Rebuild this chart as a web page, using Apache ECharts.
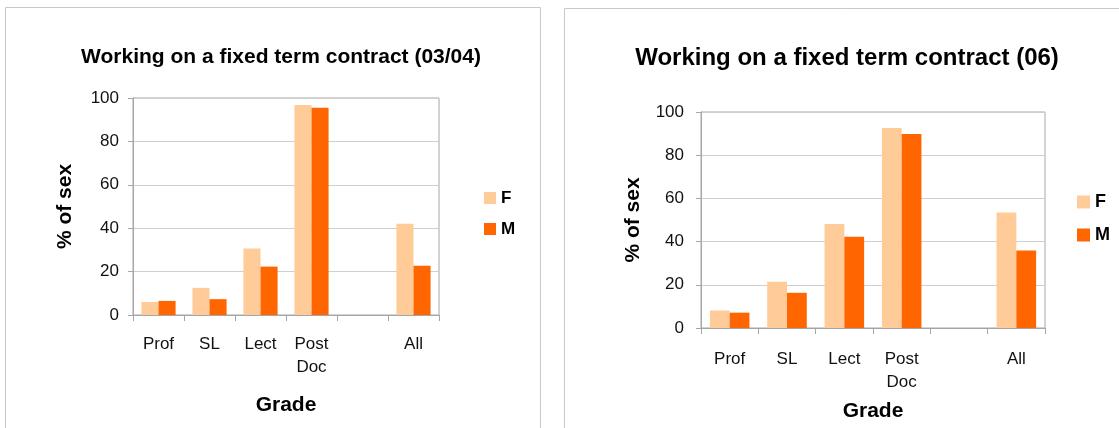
<!DOCTYPE html>
<html>
<head>
<meta charset="utf-8">
<script src="https://cdn.jsdelivr.net/npm/echarts@6/dist/echarts.min.js"></script>
<style>
  html, body { margin: 0; padding: 0; background: #ffffff; }
  #chart { width: 1119px; height: 428px; }
</style>
</head>
<body>
<div id="chart"></div>
<script>
// Grades on the x axis (blank slot separates "All" from the individual grades)
var grades = ['Prof', 'SL', 'Lect', 'Post\nDoc', '', 'All'];

// Percentage of each sex on a fixed term contract, 2003/04
var female0304 = [6.0, 12.5, 30.6, 96.8, null, 42.1];
var male0304 = [6.5, 7.3, 22.3, 95.5, null, 22.7];

// Percentage of each sex on a fixed term contract, 2006
var female06 = [8.1, 21.4, 48.2, 92.6, null, 53.5];
var male06 = [7.1, 16.3, 42.2, 89.8, null, 35.9];

var yTicks = [0, 20, 40, 60, 80, 100];

var FONT = "'Liberation Sans', Arial, sans-serif";
var COLOR_F = '#FFCC99';
var COLOR_M = '#FF6600';

function yAxisFor(gridIndex, labelMargin) {
  return {
    type: 'value',
    gridIndex: gridIndex,
    min: yTicks[0],
    max: yTicks[yTicks.length - 1],
    interval: yTicks[1] - yTicks[0],
    name: '% of sex',
    nameLocation: 'middle',
    nameRotate: 90,
    nameGap: 57,
    nameTextStyle: { fontFamily: FONT, fontSize: 21, fontWeight: 'bold', color: '#000' },
    axisLine: { show: true, lineStyle: { color: '#a6a6a6', width: 1 } },
    axisTick: { show: true, length: 5, lineStyle: { color: '#a6a6a6' } },
    axisLabel: { fontFamily: FONT, fontSize: 17, color: '#111', margin: labelMargin },
    splitLine: { show: true, lineStyle: { color: '#cfcfcf', width: 1 } }
  };
}

function xAxisFor(gridIndex, labelMargin, nameGap) {
  return {
    type: 'category',
    gridIndex: gridIndex,
    data: grades,
    name: 'Grade',
    nameLocation: 'middle',
    nameGap: nameGap,
    nameTextStyle: { fontFamily: FONT, fontSize: 21, fontWeight: 'bold', color: '#000' },
    axisLine: { show: true, lineStyle: { color: '#a6a6a6', width: 1 } },
    axisTick: { show: true, length: 6, alignWithLabel: false, lineStyle: { color: '#a6a6a6' } },
    axisLabel: { interval: 0, fontFamily: FONT, fontSize: 17, color: '#111', margin: labelMargin, lineHeight: 23 },
    splitLine: { show: false }
  };
}

function barSeries(name, data, color, idx, gap) {
  return {
    name: name,
    type: 'bar',
    xAxisIndex: idx,
    yAxisIndex: idx,
    data: data,
    barGap: '0%',
    barCategoryGap: gap,
    itemStyle: { color: color },
    emphasis: { disabled: true }
  };
}

var chart = echarts.init(document.getElementById('chart'), null, { renderer: 'canvas' });

chart.setOption({
  animation: false,
  backgroundColor: '#ffffff',
  graphic: [
    { type: 'rect', shape: { x: 5.5, y: 7.5, width: 535, height: 440 }, style: { fill: 'none', stroke: '#c8c8c8', lineWidth: 1 }, silent: true, z: -10 },
    { type: 'rect', shape: { x: 564.5, y: 8.5, width: 600, height: 440 }, style: { fill: 'none', stroke: '#c8c8c8', lineWidth: 1 }, silent: true, z: -10 }
  ],
  title: [
    {
      text: 'Working on a fixed term contract (03/04)',
      left: 276, top: 42, textAlign: 'center',
      textStyle: { fontFamily: FONT, fontSize: 21, fontWeight: 'bold', color: '#000' }
    },
    {
      text: 'Working on a fixed term contract (06)',
      left: 842, top: 41, textAlign: 'center',
      textStyle: { fontFamily: FONT, fontSize: 24, fontWeight: 'bold', color: '#000' }
    }
  ],
  legend: [
    {
      data: ['F', 'M'].map(function (n) { return n; }),
      orient: 'vertical', left: 484, top: 189, padding: 0,
      itemWidth: 12, itemHeight: 12, itemGap: 13, icon: 'rect',
      textStyle: { fontFamily: FONT, fontSize: 17, fontWeight: 'bold', color: '#000', lineHeight: 18 },
      selectedMode: false
    },
    {
      data: ['F ', 'M '],
      orient: 'vertical', left: 1077, top: 193, padding: 0,
      itemWidth: 13, itemHeight: 13, itemGap: 15, icon: 'rect',
      textStyle: { fontFamily: FONT, fontSize: 18, fontWeight: 'bold', color: '#000', lineHeight: 18 },
      selectedMode: false
    }
  ],
  grid: [
    { left: 133, top: 98, width: 306, height: 217, show: true, borderColor: '#a6a6a6', borderWidth: 1, backgroundColor: 'transparent' },
    { left: 701, top: 112, width: 344, height: 216, show: true, borderColor: '#a6a6a6', borderWidth: 1, backgroundColor: 'transparent' }
  ],
  xAxis: [xAxisFor(0, 18, 80), xAxisFor(1, 20, 73)],
  yAxis: [yAxisFor(0, 14), yAxisFor(1, 17)],
  series: [
    barSeries('F', female0304, COLOR_F, 0, '33%'),
    barSeries('M', male0304, COLOR_M, 0, '33%'),
    barSeries('F ', female06, COLOR_F, 1, '31%'),
    barSeries('M ', male06, COLOR_M, 1, '31%')
  ]
});
</script>
</body>
</html>
